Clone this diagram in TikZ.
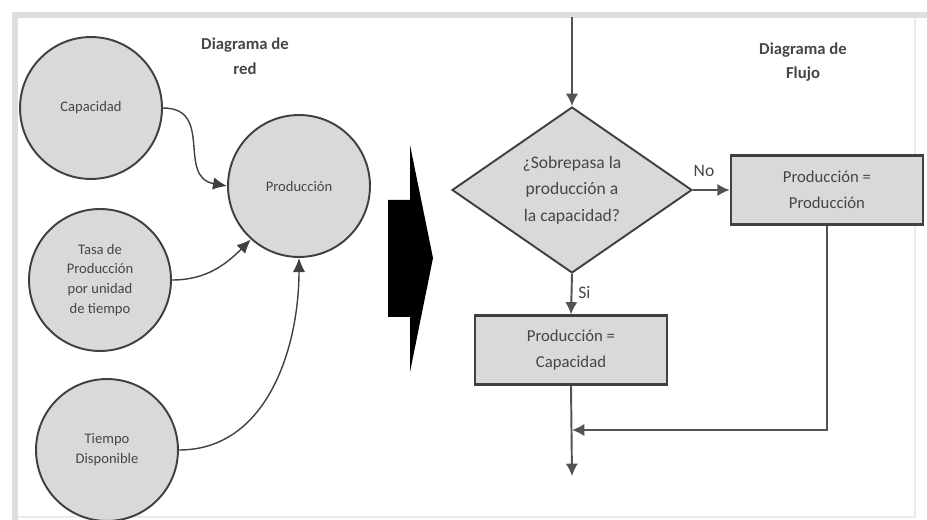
\documentclass[tikz,border=0pt]{standalone}
\usepackage{fontspec}
\setmainfont{Carlito}
\usetikzlibrary{arrows.meta, shapes.geometric}
\definecolor{relleno}{RGB}{217,217,217}
\definecolor{borde}{RGB}{64,64,64}
\definecolor{texto}{RGB}{70,70,70}
\definecolor{marcogris}{RGB}{222,222,222}

\begin{document}
\begin{tikzpicture}[x=0.02cm, y=-0.02cm,
    circulo/.style={circle, draw=borde, fill=relleno, line width=1.1pt, minimum size=2.84cm,
      align=center, text=texto, font=\fontsize{8.3}{11.3}\selectfont},
    decision/.style={diamond, draw=borde, fill=relleno, line width=1.1pt, aspect=1.45,
      inner sep=0pt, minimum width=4.8cm, minimum height=3.32cm, align=center, text=texto,
      font=\fontsize{10}{15}\selectfont},
    proceso/.style={rectangle, draw=borde, fill=relleno, line width=1.2pt, minimum width=3.85cm,
      minimum height=1.38cm, align=center, text=texto, font=\fontsize{9.5}{14.7}\selectfont},
    titulo/.style={align=center, text=texto, font=\bfseries\fontsize{9.5}{14}\selectfont},
    etiqueta/.style={text=texto, font=\fontsize{10}{12}\selectfont},
    red/.style={draw=borde, line width=0.8pt, -{Latex[length=8pt,width=7pt]}},
    flujo/.style={draw=borde!90, line width=1.1pt, -{Latex[length=7pt,width=7pt]}}]
  % coordinates are in pixels of the 927 x 520 frame, y going down
  \useasboundingbox (0,0) rectangle (927,520);

  % light frame round the figure
  \draw[marcogris!60, line width=0.6pt] (915,15) -- (915,517) -- (15,517);
  \draw[marcogris, line width=3pt] (15,520) -- (15,15) -- (927,15);

  % --- diagrama de red ---
  \node[titulo] (tit_red) at (245,56) {Diagrama de\\red};
  \node[circulo] (capacidad) at (91,108) {Capacidad};
  \node[circulo] (produccion) at (299,186) {Producción};
  \node[circulo] (tasa) at (100,280) {Tasa de\\Producción\\por unidad\\de tiempo};
  \node[circulo] (tiempo) at (107,450) {Tiempo\\Disponible};

  \draw[red] (capacidad.east) to[out=0, in=170, looseness=1.3] (produccion.west);
  \draw[red] (tasa.east) to[out=0, in=225] (produccion.228);
  \draw[red] (tiempo.east) to[out=0, in=-90] (produccion.south);

  % big black arrow between the two diagrams
  \fill[black] (388,200) -- (410,200) -- (410,145) -- (433,258) -- (410,372)
    -- (410,317) -- (388,317) -- cycle;

  % --- diagrama de flujo ---
  \node[titulo] (tit_flujo) at (803,62) {Diagrama de\\Flujo};
  \coordinate (entrada) at (572,17);
  \node[decision] (pregunta) at (572,190) {¿Sobrepasa la\\producción a\\la capacidad?};
  \node[proceso] (prodprod) at (827,190) {Producción =\\Producción};
  \node[proceso] (prodcap) at (571,350) {Producción =\\Capacidad};
  \coordinate (union) at (572,430);
  \coordinate (salida) at (572,476);

  \draw[flujo] (entrada) -- (pregunta.north);
  \draw[flujo] (pregunta.east) -- node[etiqueta, above, pos=0.3, yshift=4pt] {No} (prodprod.west);
  \draw[flujo] (pregunta.south) -- node[etiqueta, right, pos=0.45] {Si} (prodcap.north);
  \draw[flujo] (prodcap.south) -- (salida);
  \draw[flujo] (prodprod.south) |- (union);
\end{tikzpicture}
\end{document}
